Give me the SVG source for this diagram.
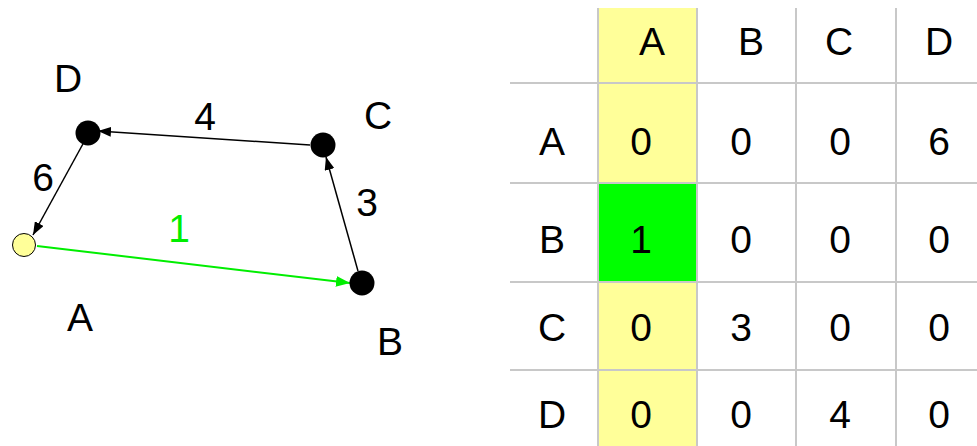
<svg xmlns="http://www.w3.org/2000/svg" width="977" height="446" viewBox="0 0 977 446">
  <style>
    text { font-family: "Liberation Sans", Arial, sans-serif; font-size: 39px; fill: #000; text-anchor: middle; }
    .grid { stroke: #c8c8c8; stroke-width: 2; fill: none; }
    .edge { stroke: #000; stroke-width: 1.5; fill: none; }
    .edge-hl { stroke: #00ee00; stroke-width: 2; fill: none; }
    .node { fill: #000; }
  </style>
  <defs>
    <marker id="arrow" viewBox="0 0 13 10" refX="13" refY="5" markerWidth="13" markerHeight="10" markerUnits="userSpaceOnUse" orient="auto">
      <path d="M0,0 L13,5 L0,10 z" fill="#000"/>
    </marker>
    <marker id="arrow-green" viewBox="0 0 13 10" refX="13" refY="5" markerWidth="14" markerHeight="11" markerUnits="userSpaceOnUse" orient="auto">
      <path d="M0,0 L13,5 L0,10 z" fill="#00ee00"/>
    </marker>
  </defs>

  <rect width="977" height="446" fill="#fff"/>

  <!-- graph connectors -->
  <g id="connectors">
    <line class="edge" x1="310" y1="145" x2="98" y2="131" marker-end="url(#arrow)"/>
    <line class="edge" x1="84" y1="142" x2="33" y2="235" marker-end="url(#arrow)"/>
    <line class="edge" x1="358" y1="271" x2="326" y2="157" marker-end="url(#arrow)"/>
    <line class="edge-hl" x1="37" y1="246" x2="350" y2="283" marker-end="url(#arrow-green)"/>
    <text x="205" y="130">4</text>
    <text x="43" y="191">6</text>
    <text x="367" y="216">3</text>
    <text x="179" y="242" style="fill:#00ee00">1</text>
  </g>

  <!-- graph nodes -->
  <g id="node-A">
    <circle cx="24" cy="245" r="11.5" fill="#ffff99" stroke="#000" stroke-width="1"/>
    <text x="80" y="331">A</text>
  </g>
  <g id="node-B">
    <circle class="node" cx="362" cy="283" r="12.5"/>
    <text x="390" y="355">B</text>
  </g>
  <g id="node-C">
    <circle class="node" cx="323" cy="145" r="12.5"/>
    <text x="378" y="129">C</text>
  </g>
  <g id="node-D">
    <circle class="node" cx="88" cy="133" r="12.5"/>
    <text x="68" y="92">D</text>
  </g>

  <!-- adjacency matrix -->
  <g id="matrix">
    <rect x="598" y="8" width="99" height="438" fill="#ffff99"/>
    <rect x="598" y="183" width="99" height="99" fill="#00ff00"/>
    <line class="grid" x1="598" y1="8" x2="598" y2="446"/>
    <line class="grid" x1="697" y1="8" x2="697" y2="446"/>
    <line class="grid" x1="796" y1="8" x2="796" y2="446"/>
    <line class="grid" x1="896" y1="8" x2="896" y2="446"/>
    <line class="grid" x1="510" y1="83" x2="977" y2="83"/>
    <line class="grid" x1="510" y1="183" x2="977" y2="183"/>
    <line class="grid" x1="510" y1="282" x2="977" y2="282"/>
    <line class="grid" x1="510" y1="370" x2="977" y2="370"/>

    <text x="652" y="55">A</text>
    <text x="751" y="55">B</text>
    <text x="839" y="55">C</text>
    <text x="939" y="55">D</text>

    <text x="552" y="155">A</text>
    <text x="641" y="155">0</text>
    <text x="741" y="155">0</text>
    <text x="840" y="155">0</text>
    <text x="939" y="155">6</text>

    <text x="552" y="253">B</text>
    <text x="641" y="253">1</text>
    <text x="741" y="253">0</text>
    <text x="840" y="253">0</text>
    <text x="939" y="253">0</text>

    <text x="552" y="341">C</text>
    <text x="641" y="341">0</text>
    <text x="741" y="341">3</text>
    <text x="840" y="341">0</text>
    <text x="939" y="341">0</text>

    <text x="552" y="428">D</text>
    <text x="641" y="428">0</text>
    <text x="741" y="428">0</text>
    <text x="840" y="428">4</text>
    <text x="939" y="428">0</text>
  </g>
</svg>
